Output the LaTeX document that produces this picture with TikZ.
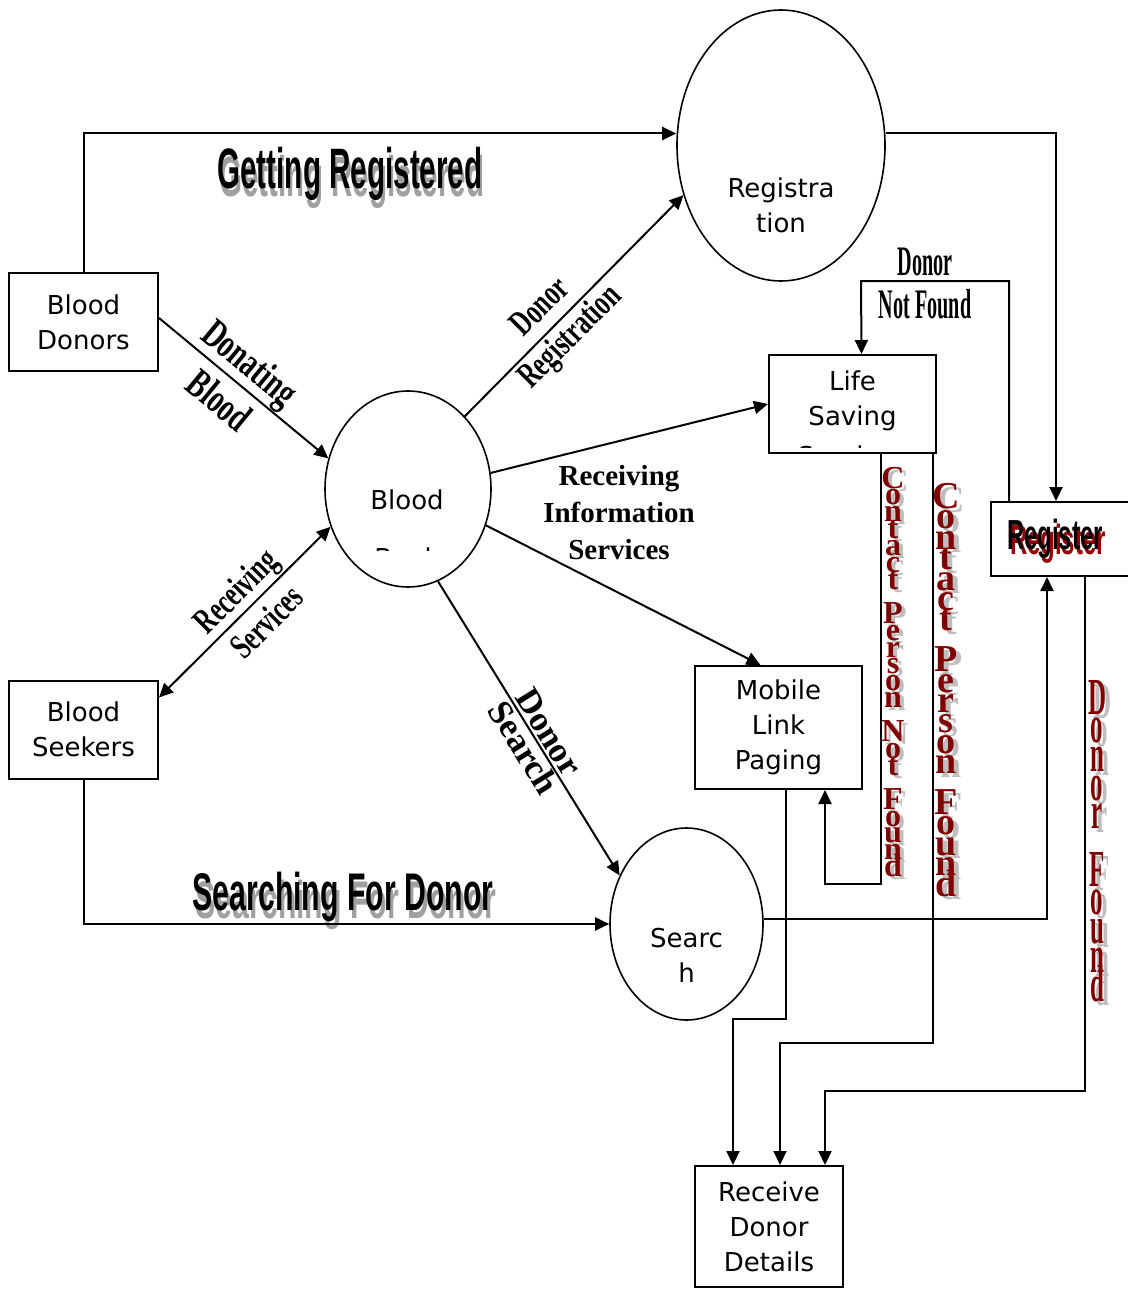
\documentclass[tikz,border=0pt]{standalone}
\usepackage{fontspec}
\setmainfont{DejaVu Sans}
\newfontfamily\artfont{Liberation Sans}[FakeStretch=0.52]
\newfontfamily\artwidefont{Liberation Sans}[FakeStretch=0.57]
\newfontfamily\flowfont{Liberation Serif}[FakeStretch=0.68]
\newfontfamily\narrowfont{Liberation Serif}[FakeStretch=0.48]
\newfontfamily\plainserif{Liberation Serif}
\usetikzlibrary{arrows.meta,shapes.geometric,positioning}
\definecolor{cpred}{RGB}{128,0,0}
\definecolor{lettershade}{RGB}{190,190,190}
\definecolor{artshade}{RGB}{160,160,160}
\definecolor{regshade}{RGB}{150,0,0}

\begin{document}
\begin{tikzpicture}[
      x=0.5pt, y=-0.5pt,
      line width=1pt,
      >={Triangle[length=7pt,width=6.5pt]},
      process/.style={
        draw,
        rectangle,
        inner sep=0pt,
        minimum width=74.5pt,
        minimum height=49pt,
        align=center,
        font=\fontsize{13}{17.5}\selectfont
      },
      bubble/.style={
        draw,
        ellipse,
        inner sep=0pt,
        line width=0.8pt
      },
      inside/.style={
        align=center,
        inner sep=0pt,
        font=\fontsize{13}{17.5}\selectfont
      },
      flow/.style={
        align=center,
        inner sep=0pt,
        font=\flowfont\bfseries\fontsize{18}{22}\selectfont
      },
      wordart/.style={
        inner sep=0pt,
        font=\artfont\bfseries\fontsize{28.5}{30}\selectfont
      },
      letter/.style={
        inner sep=0pt,
        anchor=base,
        text=cpred,
        font=\plainserif\bfseries\fontsize{16}{16}\selectfont
      },
      shade/.style={
        letter,
        text=lettershade
      }
    ]
    \useasboundingbox (0,0) rectangle (1128,1289);

    \node[process] (donors) at (83.5,322) {Blood\\Donors} ;
    \node[process] (seekers) at (83.5,729.5) {Blood\\Seekers} ;
    \node[bubble, minimum width=83pt, minimum height=98pt] (bank) at (408,489) {} ;
    \node[bubble, minimum width=104pt, minimum height=135.5pt] (reg) at (781,145.5) {} ;
    \node[bubble, minimum width=76.5pt, minimum height=96pt] (search) at (686.5,924) {} ;
    \node[process, minimum width=83.5pt] (life) at (852.5,404) {} ;
    \node[process, minimum width=83.5pt, minimum height=61.5pt] (mobile) at (778.5,727.5) {Mobile\\Link\\Paging} ;
    \node[process, minimum width=74pt, minimum height=60.5pt] (receive) at (769,1226.5) {Receive\\Donor\\Details} ;
    \node[process, minimum width=70pt, minimum height=37pt] (register) at (1061,539) {} ;

    \node[inside] (regtxt) at (781,205) {Registra\\tion} ;
    \node[inside] (searchtxt) at (686.5,955) {Searc\\h} ;
    \node[inside] (banktxt) at (407,500) {Blood} ;
    \node[inside] (lifetxt) at (852.5,401) {Life\\Saving} ;
    \begin{scope}
      \clip (330,540) rectangle (490,550);
      \node[inside] (banktxtcut) at (407,558) {Bank} ;
    \end{scope}
    \begin{scope}
      \clip (770,440) rectangle (935,447);
      \node[inside] (lifetxtcut) at (852.5,456) {Services} ;
    \end{scope}

    \node[wordart, text=artshade] (getregshade) at (352,181.5) {Getting Registered} ;
    \node[wordart] (getreg) at (350,173.5) {Getting Registered} ;
    \node[wordart, text=artshade, font=\artwidefont\bfseries\fontsize{26.5}{28}\selectfont] (searchingshade) at (346,904.5) {Searching For Donor} ;
    \node[wordart, font=\artwidefont\bfseries\fontsize{26.5}{28}\selectfont] (searching) at (343,896.5) {Searching For Donor} ;
    \node[wordart, text=regshade, font=\artwidefont\bfseries\fontsize{21}{22}\selectfont] (registershade) at (1058,544) {Register} ;
    \node[wordart, font=\artwidefont\bfseries\fontsize{21}{22}\selectfont] (registertxt) at (1055,539) {Register} ;

    \node[flow, font=\plainserif\bfseries\fontsize{14.5}{18.5}\selectfont] (recinfo) at (619,513) {Receiving\\Information\\Services} ;
    \node[flow, font=\narrowfont\bfseries\fontsize{21}{21.5}\selectfont] (notfound) at (925,283.5) {Donor\\Not Found} ;

    \node[coordinate, yshift=6pt] (regin) at (reg.west) {} ;
    \node[coordinate, yshift=6pt] (regout) at (reg.east) {} ;
    \node[coordinate, xshift=-2.5pt] (regtop) at (register.north) {} ;
    \node[coordinate, xshift=-26pt] (regnf) at (register.north) {} ;
    \node[coordinate, xshift=12pt] (regfound) at (register.south) {} ;
    \node[coordinate, xshift=-7pt] (regbot) at (register.south) {} ;
    \node[coordinate, yshift=2pt] (donout) at (donors.east) {} ;
    \node[coordinate, yshift=-9pt] (seekin) at (seekers.north east) {} ;
    \node[coordinate, xshift=-9pt] (mobtop) at (mobile.north) {} ;
    \node[coordinate, xshift=3.75pt] (mobout) at (mobile.south) {} ;
    \node[coordinate, xshift=23.25pt] (mobin) at (mobile.south) {} ;
    \node[coordinate, xshift=4.5pt] (lifein) at (life.north) {} ;
    \node[coordinate, xshift=14.25pt] (lifenf) at (life.south) {} ;
    \node[coordinate, xshift=40.25pt] (lifef) at (life.south) {} ;
    \node[coordinate, xshift=-18pt] (recm) at (receive.north) {} ;
    \node[coordinate, xshift=5.5pt] (recf) at (receive.north) {} ;
    \node[coordinate, xshift=28pt] (recd) at (receive.north) {} ;
    \node[coordinate] (nfbend) at (861,281) {} ;
    \node[coordinate] (cpnfbend) at (825,884) {} ;
    \node[coordinate] (cpfbend) at (780,1043) {} ;
    \node[coordinate] (mlbend) at (733,1019) {} ;
    \node[coordinate] (dfbend) at (825,1091) {} ;

    \draw[->] (donors.north) |- (regin);
    \draw[->] (regout) -| (regtop);
    \draw[->] (donout) -- node[flow, rotate=-39.5, pos=0.45, font=\flowfont\bfseries\fontsize{20.5}{24.5}\selectfont] (donating) {Donating\\Blood} (bank.159);
    \draw[->] (bank.52) -- node[flow, rotate=45.1, pos=0.42, font=\flowfont\bfseries\fontsize{18}{21}\selectfont] (donorreg) {Donor\\Registration} (reg.207);
    \draw[->] (bank.11) -- (life.west);
    \draw[->] (bank.335) -- (mobtop);
    \draw[->] (bank.288) -- node[flow, rotate=-58.3, pos=0.54, font=\plainserif\bfseries\fontsize{17.5}{15}\selectfont] (donorsearch) {Donor\\Search} (search.144);
    \draw[<->] (seekin) -- node[flow, rotate=45, pos=0.535] (recserv) {Receiving\\Services} (bank.206);
    \draw[->] (seekers.south) |- (search.west);
    \draw[->] (search.4) -| (regbot);
    \draw[->] (regnf) |- (nfbend) -- (lifein);
    \draw[->] (lifenf) |- (cpnfbend) -- (mobin);
    \draw[->] (lifef) |- (cpfbend) -- (recf);
    \draw[->] (mobout) |- (mlbend) -- (recm);
    \draw[->] (regfound) |- (dfbend) -- (recd);

    \foreach \ch [count=\i] in {C,o,n,t,a,c,t,{},P,e,r,s,o,n,{},N,o,t,{},F,o,u,n,d}
      \node[shade] (cpnfs\i) at (897,{491+(\i-1)*16.9}) {\ch} ;
    \foreach \ch [count=\i] in {C,o,n,t,a,c,t,{},P,e,r,s,o,n,{},N,o,t,{},F,o,u,n,d}
      \node[letter] (cpnf\i) at (893,{488+(\i-1)*16.9}) {\ch} ;
    \foreach \ch [count=\i] in {C,o,n,t,a,c,t,{},P,e,r,s,o,n,{},F,o,u,n,d}
      \node[shade, font=\plainserif\bfseries\fontsize{19}{19}\selectfont] (cpfs\i) at (951,{512+(\i-1)*20.4}) {\ch} ;
    \foreach \ch [count=\i] in {C,o,n,t,a,c,t,{},P,e,r,s,o,n,{},F,o,u,n,d}
      \node[letter, font=\plainserif\bfseries\fontsize{19}{19}\selectfont] (cpf\i) at (946,{508.5+(\i-1)*20.4}) {\ch} ;
    \foreach \ch [count=\i] in {D,o,n,o,r,{},F,o,u,n,d}
      \node[shade, font=\narrowfont\bfseries\fontsize{26}{26}\selectfont] (dfs\i) at (1102,{718+(\i-1)*28.7}) {\ch} ;
    \foreach \ch [count=\i] in {D,o,n,o,r,{},F,o,u,n,d}
      \node[letter, font=\narrowfont\bfseries\fontsize{26}{26}\selectfont] (df\i) at (1097,{714+(\i-1)*28.7}) {\ch} ;

  \end{tikzpicture}
\end{document}
